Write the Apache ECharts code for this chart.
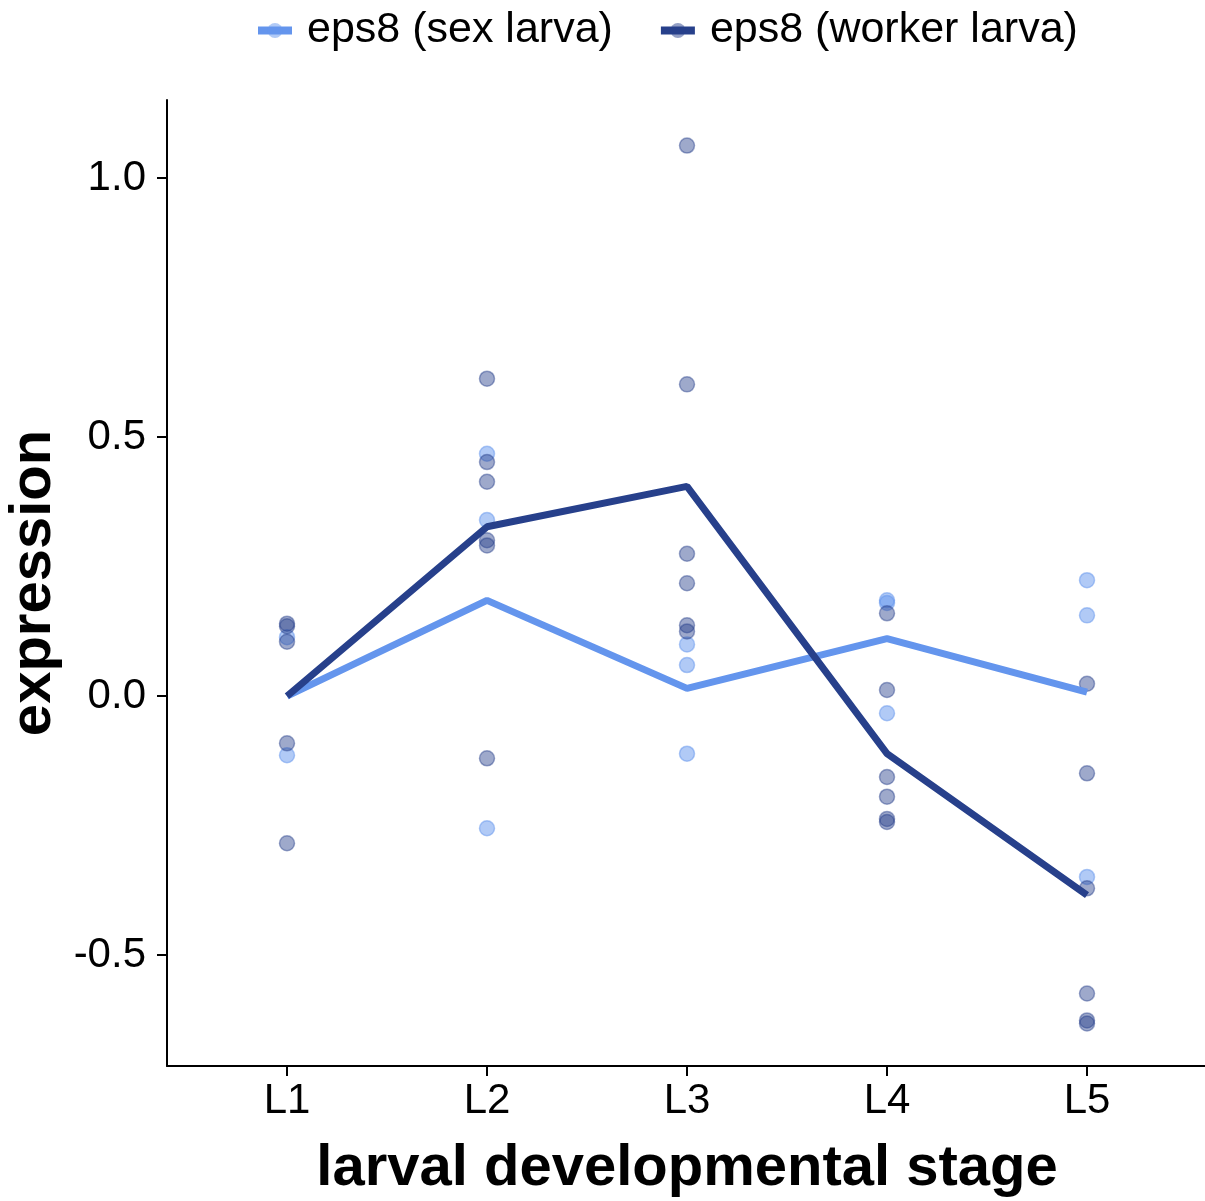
<!DOCTYPE html>
<html>
<head>
<meta charset="utf-8">
<script src="https://cdn.jsdelivr.net/npm/echarts@6/dist/echarts.min.js"></script>
<style>html,body{margin:0;padding:0;background:#fff}#c{width:1205px;height:1201px}</style>
</head>
<body>
<div id="c"></div>
<script>
const stages = ['L1', 'L2', 'L3', 'L4', 'L5'];
const yTicks = [-0.5, 0, 0.5, 1.0];
const sexMean = [0, 0.185, 0.015, 0.111, 0.008];
const workerMean = [0, 0.327, 0.405, -0.111, -0.384];
const sexL1 = [0.114, -0.114];
const sexL2 = [0.468, 0.340, -0.255];
const sexL3 = [0.100, 0.060, -0.111];
const sexL4 = [0.185, 0.180, -0.033];
const sexL5 = [0.224, 0.156, -0.349];
const workerL1 = [0.140, 0.135, 0.105, -0.091, -0.284];
const workerL2 = [0.613, 0.452, 0.414, 0.301, 0.291, -0.120];
const workerL3 = [1.063, 0.602, 0.275, 0.218, 0.137, 0.125];
const workerL4 = [0.160, 0.012, -0.156, -0.194, -0.237, -0.243];
const workerL5 = [0.024, -0.149, -0.371, -0.574, -0.626, -0.632];

const sexName = 'eps8 (sex larva)';
const workerName = 'eps8 (worker larva)';
const sexColor = '#6495ED';
const workerColor = '#27408B';

function pts(groups) {
  const out = [];
  groups.forEach((g, i) => g.forEach(v => out.push([i + 1, v])));
  return out;
}
const sexPts = pts([sexL1, sexL2, sexL3, sexL4, sexL5]);
const workerPts = pts([workerL1, workerL2, workerL3, workerL4, workerL5]);
const pos = stages.map((s, i) => i + 1);

const chart = echarts.init(document.getElementById('c'), null, {renderer: 'canvas'});
const font = 'Liberation Sans, Arial, Helvetica, sans-serif';
chart.setOption({
  animation: false,
  backgroundColor: '#fff',
  textStyle: {fontFamily: font},
  legend: {
    top: 4, left: 249,
    data: [sexName, workerName],
    itemWidth: 34, itemHeight: 19, itemGap: 44,
    lineStyle: {width: 8},
    textStyle: {fontSize: 43, color: '#000', fontFamily: font, padding: [0, 0, 0, 10]}
  },
  grid: {left: 167, top: 100, width: 1040, height: 966, containLabel: false, outerBoundsMode: 'none'},
  xAxis: {
    type: 'value', min: 0.4, max: 5.6,
    name: 'larval developmental stage', nameLocation: 'middle', nameGap: 74,
    nameTextStyle: {fontSize: 58, fontWeight: 'bold', color: '#000', fontFamily: font},
    axisLine: {show: true, onZero: false, lineStyle: {color: '#000', width: 2}},
    axisTick: {show: true, length: 10, lineStyle: {color: '#000', width: 2}, customValues: pos},
    axisLabel: {fontSize: 42, color: '#000', margin: 14, customValues: pos,
      formatter: v => stages[Math.round(v) - 1] || ''},
    splitLine: {show: false}
  },
  yAxis: {
    type: 'value', min: -0.714, max: 1.151,
    name: 'expression', nameLocation: 'middle', nameGap: 97,
    nameTextStyle: {fontSize: 58, fontWeight: 'bold', color: '#000', fontFamily: font},
    axisLine: {show: true, onZero: false, lineStyle: {color: '#000', width: 2}},
    axisTick: {show: true, length: 10, lineStyle: {color: '#000', width: 2}, customValues: yTicks},
    axisLabel: {fontSize: 42, color: '#000', margin: 21, customValues: yTicks,
      formatter: v => v.toFixed(1)},
    splitLine: {show: false}
  },
  series: [
    {name: sexName, type: 'line', data: pos.map((x, i) => [x, sexMean[i]]),
      showSymbol: false, symbol: 'circle', symbolSize: 16,
      lineStyle: {color: sexColor, width: 7}, itemStyle: {color: sexColor, opacity: 0.5}, z: 3},
    {name: workerName, type: 'line', data: pos.map((x, i) => [x, workerMean[i]]),
      showSymbol: false, symbol: 'circle', symbolSize: 16,
      lineStyle: {color: workerColor, width: 7}, itemStyle: {color: workerColor, opacity: 0.5}, z: 4},
    {name: sexName, type: 'scatter', data: sexPts, symbolSize: 15,
      itemStyle: {color: sexColor, opacity: 0.5, borderColor: sexColor, borderWidth: 1.5}, z: 2},
    {name: workerName, type: 'scatter', data: workerPts, symbolSize: 15,
      itemStyle: {color: workerColor, opacity: 0.45, borderColor: workerColor, borderWidth: 1.5}, z: 2}
  ]
});
</script>
</body>
</html>
